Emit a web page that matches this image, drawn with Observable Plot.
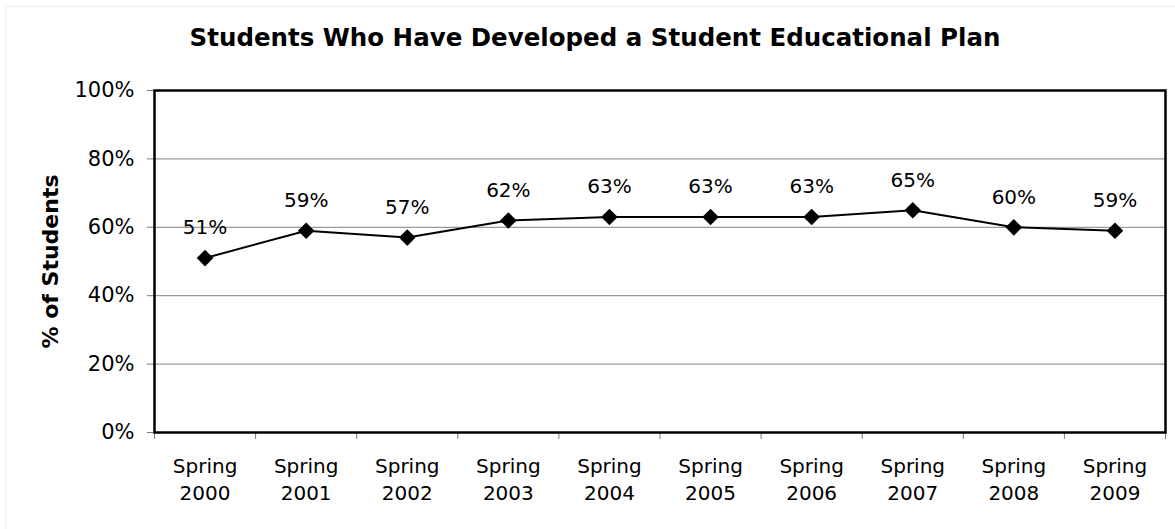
<!DOCTYPE html>
<html>
<head>
<meta charset="utf-8">
<script src="https://cdn.jsdelivr.net/npm/d3@7"></script>
<script src="https://cdn.jsdelivr.net/npm/@observablehq/plot@0.6"></script>
<style>
  html, body { margin: 0; padding: 0; background: #fff; }
  #wrap { position: relative; width: 1175px; height: 529px; overflow: hidden; font-family: "DejaVu Sans", sans-serif; }
  #border { position: absolute; left: 5px; top: 6px; width: 1200px; height: 600px; border: 1px solid #ececec; box-sizing: border-box; pointer-events: none; }
  #title { height: 70px; box-sizing: border-box; padding-top: 23px; padding-left: 15px; text-align: center; font-weight: bold; font-size: 24.5px; line-height: 29px; color: #000; }
  #chart svg { display: block; }
  #chart g[aria-label^="y-axis"] text { font-size: 21px; }
  #chart g[aria-label^="x-axis"] line, #chart g[aria-label^="x-axis"] path,
  #chart g[aria-label^="y-axis"] line, #chart g[aria-label^="y-axis"] path { stroke: #7a7a7a; }
</style>
</head>
<body>
<div id="wrap">
  <div id="border"></div>
  <div id="title">Students Who Have Developed a Student Educational Plan</div>
  <div id="chart"></div>
</div>
<script>
const seasons = ["Spring", "Spring", "Spring", "Spring", "Spring", "Spring", "Spring", "Spring", "Spring", "Spring"];
const years = ["2000", "2001", "2002", "2003", "2004", "2005", "2006", "2007", "2008", "2009"];
const values = [51, 59, 57, 62, 63, 63, 63, 65, 60, 59];
const yTicks = [0, 20, 40, 60, 80, 100];
const gridValues = [20, 40, 60, 80];
const yLabel = "% of Students";

const data = years.map((y, i) => ({i, label: seasons[i] + "\n" + y, value: values[i]}));
const boundaries = d3.range(years.length + 1).map(k => k - 0.5);

const chart = Plot.plot({
  width: 1175,
  height: 459,
  marginLeft: 154,
  marginRight: 10,
  marginTop: 20,
  marginBottom: 97,
  style: {fontFamily: "DejaVu Sans", fontSize: "20px", color: "#000", background: "transparent", overflow: "visible"},
  x: {type: "linear", domain: [-0.5, years.length - 0.5], ticks: boundaries, tickSize: 7, tickFormat: () => "", label: null},
  y: {domain: [0, 100], ticks: yTicks, tickFormat: d => d + "%", tickSize: 7, tickPadding: 13, label: null},
  marks: [
    Plot.ruleY(gridValues, {stroke: "#808080", strokeWidth: 1}),
    Plot.frame({stroke: "#000", strokeWidth: 2.5}),
    Plot.line(data, {x: "i", y: "value", stroke: "#000", strokeWidth: 2}),
    Plot.dot(data, {x: "i", y: "value", symbol: "diamond2", r: 7.5, fill: "#000", stroke: "none"}),
    Plot.text(data, {x: "i", y: "value", text: d => d.value + "%", dy: -30, fontSize: 20, fill: "#000"}),
    Plot.text(data, {x: "i", y: () => 0, text: "label", lineAnchor: "top", dy: 21, lineHeight: 1.37, fontSize: 20, fill: "#000"}),
    Plot.text([yLabel], {frameAnchor: "left", text: d => d, rotate: -90, dx: -104, textAnchor: "middle", fontWeight: "bold", fontSize: 22, fill: "#000"})
  ]
});
document.getElementById("chart").appendChild(chart);
</script>
</body>
</html>
